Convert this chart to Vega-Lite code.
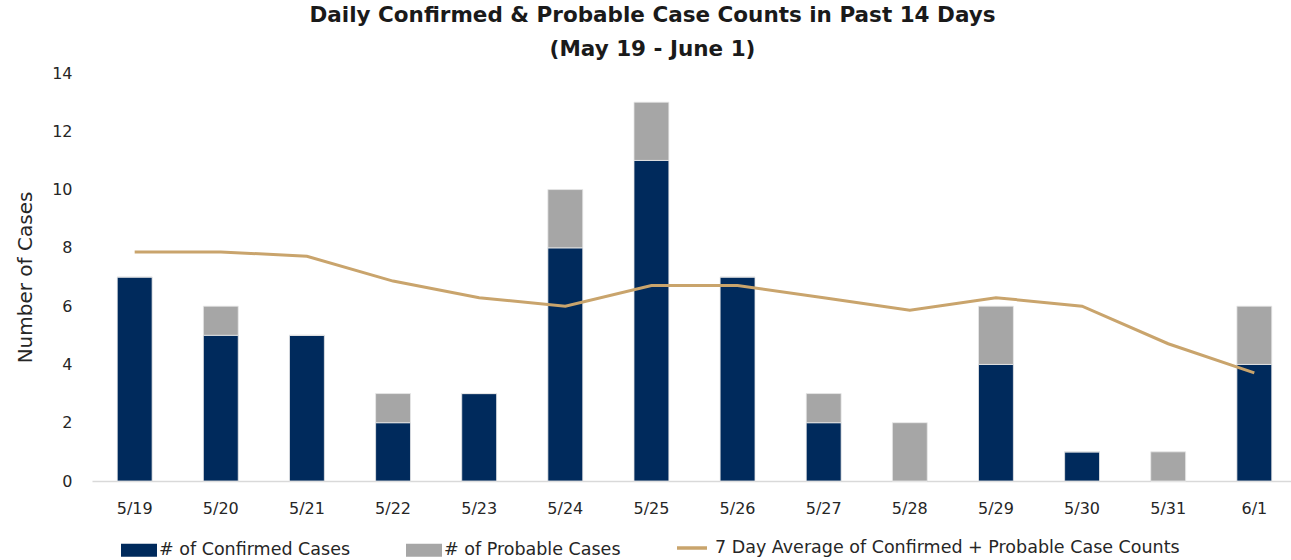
{
  "$schema": "https://vega.github.io/schema/vega-lite/v6.json",
  "autosize": {"type": "none"},
  "width": 1205,
  "height": 408,
  "padding": {"left": 92, "top": 73, "right": 0, "bottom": 79},
  "background": "white",
  "config": {
    "view": {"stroke": null},
    "font": "DejaVu Sans",
    "axis": {"labelFont": "DejaVu Sans", "titleFont": "DejaVu Sans", "labelColor": "#262626", "titleColor": "#262626"},
    "legend": {"labelFont": "DejaVu Sans", "labelColor": "#262626", "labelLimit": 0, "padding": 0}
  },
  "title": {
    "text": ["Daily Confirmed & Probable Case Counts in Past 14 Days", "(May 19 - June 1)"],
    "font": "DejaVu Sans",
    "fontSize": 21.5,
    "fontWeight": "bold",
    "color": "#1a1a1a",
    "lineHeight": 34,
    "offset": 5,
    "dx": -42,
    "anchor": "middle"
  },
  "datasets": {
    "bars": [
      {"date": "5/19", "series": "# of Confirmed Cases", "count": 7},
      {"date": "5/19", "series": "# of Probable Cases", "count": 0},
      {"date": "5/20", "series": "# of Confirmed Cases", "count": 5},
      {"date": "5/20", "series": "# of Probable Cases", "count": 1},
      {"date": "5/21", "series": "# of Confirmed Cases", "count": 5},
      {"date": "5/21", "series": "# of Probable Cases", "count": 0},
      {"date": "5/22", "series": "# of Confirmed Cases", "count": 2},
      {"date": "5/22", "series": "# of Probable Cases", "count": 1},
      {"date": "5/23", "series": "# of Confirmed Cases", "count": 3},
      {"date": "5/23", "series": "# of Probable Cases", "count": 0},
      {"date": "5/24", "series": "# of Confirmed Cases", "count": 8},
      {"date": "5/24", "series": "# of Probable Cases", "count": 2},
      {"date": "5/25", "series": "# of Confirmed Cases", "count": 11},
      {"date": "5/25", "series": "# of Probable Cases", "count": 2},
      {"date": "5/26", "series": "# of Confirmed Cases", "count": 7},
      {"date": "5/26", "series": "# of Probable Cases", "count": 0},
      {"date": "5/27", "series": "# of Confirmed Cases", "count": 2},
      {"date": "5/27", "series": "# of Probable Cases", "count": 1},
      {"date": "5/28", "series": "# of Confirmed Cases", "count": 0},
      {"date": "5/28", "series": "# of Probable Cases", "count": 2},
      {"date": "5/29", "series": "# of Confirmed Cases", "count": 4},
      {"date": "5/29", "series": "# of Probable Cases", "count": 2},
      {"date": "5/30", "series": "# of Confirmed Cases", "count": 1},
      {"date": "5/30", "series": "# of Probable Cases", "count": 0},
      {"date": "5/31", "series": "# of Confirmed Cases", "count": 0},
      {"date": "5/31", "series": "# of Probable Cases", "count": 1},
      {"date": "6/1", "series": "# of Confirmed Cases", "count": 4},
      {"date": "6/1", "series": "# of Probable Cases", "count": 2}
    ],
    "avg": [
      {"date": "5/19", "avg": 7.86},
      {"date": "5/20", "avg": 7.86},
      {"date": "5/21", "avg": 7.71},
      {"date": "5/22", "avg": 6.86},
      {"date": "5/23", "avg": 6.29},
      {"date": "5/24", "avg": 6.0},
      {"date": "5/25", "avg": 6.71},
      {"date": "5/26", "avg": 6.71},
      {"date": "5/27", "avg": 6.29},
      {"date": "5/28", "avg": 5.86},
      {"date": "5/29", "avg": 6.29},
      {"date": "5/30", "avg": 6.0},
      {"date": "5/31", "avg": 4.71},
      {"date": "6/1", "avg": 3.71}
    ]
  },
  "encoding": {
    "x": {
      "field": "date",
      "type": "nominal",
      "sort": null,
      "scale": {"paddingInner": 0.595, "paddingOuter": 0.293},
      "axis": {
        "title": null,
        "labelAngle": 0,
        "labelFontSize": 16,
        "labelPadding": 19,
        "ticks": false,
        "domainColor": "#d9d9d9",
        "domainWidth": 1.5
      }
    }
  },
  "layer": [
    {
      "data": {"name": "bars"},
      "mark": {"type": "bar", "stroke": "#e8e8e8", "strokeWidth": 0.8},
      "encoding": {
        "y": {
          "field": "count",
          "type": "quantitative",
          "stack": "zero",
          "scale": {"domain": [0, 14], "nice": false},
          "axis": {
            "title": "Number of Cases",
            "titleFontSize": 20,
            "titleFontWeight": "normal",
            "titlePadding": 16,
            "labelFontSize": 16,
            "labelPadding": 20,
            "values": [0, 2, 4, 6, 8, 10, 12, 14],
            "grid": false,
            "ticks": false,
            "domain": false
          }
        },
        "color": {
          "field": "series",
          "type": "nominal",
          "scale": {
            "domain": ["# of Confirmed Cases", "# of Probable Cases"],
            "range": ["#002a5c", "#a6a6a6"]
          },
          "legend": {
            "title": null,
            "orient": "none",
            "direction": "horizontal",
            "legendX": 29,
            "legendY": 459,
            "labelFontSize": 17.5,
            "columnPadding": 55,
            "symbolType": "M-1,-0.36H1V0.36H-1Z",
            "symbolSize": 1296,
            "symbolStrokeWidth": 0,
            "symbolOpacity": 1,
            "labelOffset": 2
          }
        },
        "order": {"field": "series", "sort": "ascending"}
      }
    },
    {
      "data": {"name": "avg"},
      "mark": {"type": "line", "strokeWidth": 3},
      "encoding": {
        "y": {"field": "avg", "type": "quantitative"},
        "stroke": {
          "datum": "7 Day Average of Confirmed + Probable Case Counts",
          "type": "nominal",
          "scale": {"domain": ["7 Day Average of Confirmed + Probable Case Counts"], "range": ["#c9a46c"]},
          "legend": {
            "title": null,
            "orient": "none",
            "direction": "horizontal",
            "legendX": 583,
            "legendY": 458,
            "labelFontSize": 17.5,
            "symbolType": "stroke",
            "symbolSize": 900,
            "symbolStrokeWidth": 3.5,
            "labelOffset": 6
          }
        }
      }
    }
  ]
}
